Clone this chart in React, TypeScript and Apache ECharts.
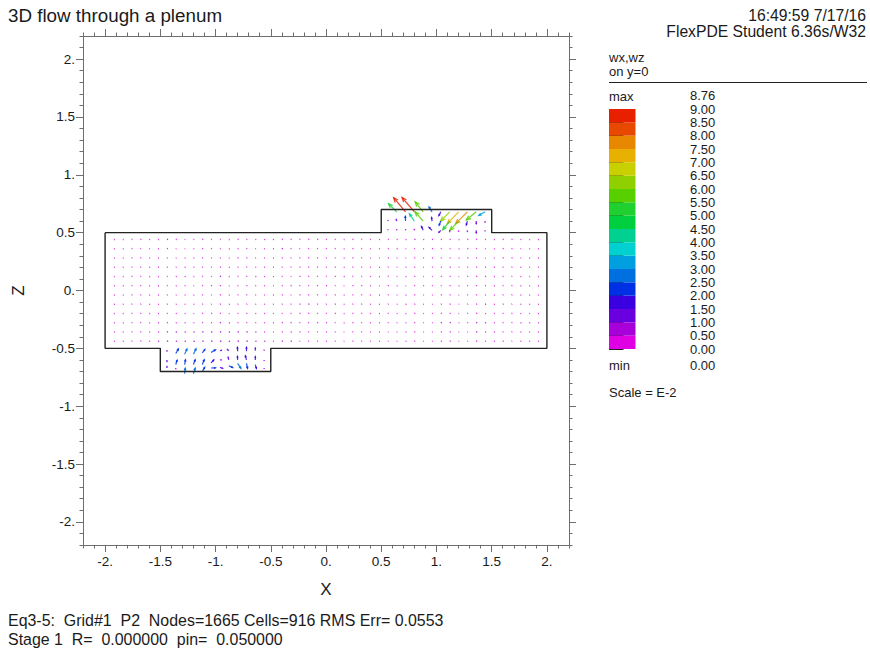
import React, { useEffect, useRef } from "react";
import * as echarts from "echarts";

const FONT = '"Liberation Sans", Arial, sans-serif';
const TEXT = "#1a1a1a";
const AXIS = "#6e6e6e";

const outlineX = [-2, 0.5, 0.5, 1.5, 1.5, 2, 2, -0.5, -0.5, -1.5, -1.5, -2, -2];
const outlineZ = [0.5, 0.5, 0.7, 0.7, 0.5, 0.5, -0.5, -0.5, -0.7, -0.7, -0.5, -0.5, 0.5];

const majorTicks = [-2, -1.5, -1, -0.5, 0, 0.5, 1, 1.5, 2];
const minorTicks = [-2.2, -2.1, -1.9, -1.8, -1.7, -1.6, -1.4, -1.3, -1.2, -1.1, -0.9, -0.8, -0.7, -0.6, -0.4, -0.3, -0.2, -0.1, 0.1, 0.2, 0.3, 0.4, 0.6, 0.7, 0.8, 0.9, 1.1, 1.2, 1.3, 1.4, 1.6, 1.7, 1.8, 1.9, 2.1, 2.2];

const gridXs = [-1.92, -1.84, -1.76, -1.68, -1.6, -1.52, -1.44, -1.36, -1.28, -1.2, -1.12, -1.04, -0.96, -0.88, -0.8, -0.72, -0.64, -0.56, -0.48, -0.4, -0.32, -0.24, -0.16, -0.08, 0, 0.08, 0.16, 0.24, 0.32, 0.4, 0.48, 0.56, 0.64, 0.72, 0.8, 0.88, 0.96, 1.04, 1.12, 1.2, 1.28, 1.36, 1.44, 1.52, 1.6, 1.68, 1.76, 1.84, 1.92];
const gridZs = [0.44, 0.36, 0.28, 0.2, 0.12, 0.04, -0.04, -0.12, -0.2, -0.28, -0.36, -0.44];

// Background field: wx by row (E-2), one row per gridZs entry
const wxRows = [
  [.45, .42, .35, .42, .42, .45, .48, .42, .35, .4, .42, .35, .3, .42, .42, .35, .45, .48, .48, .4, .42, .35, .42, .42, .35, .35, .42, .42, .35, .4, .42, .4, .4, .45, .5, .48, .42, .4, .42, .45, .42, .38, .4, .42, .42, .4, .42, .45, .45],
  [.42, .4, .3, .3, .4, .42, .42, .3, .3, .4, .42, .35, .3, .42, .35, .3, .35, .42, .48, .48, .38, .3, .35, .3, .35, .35, .4, .42, .3, .35, .42, .4, .42, .35, .3, .42, .42, .3, .35, .42, .42, .3, .3, .4, .42, .4, .35, .42, .42],
  [.4, .4, .3, .35, .4, .35, .3, .32, .42, .42, .35, .3, .3, .35, .4, .38, .35, .4, .45, .35, .3, .35, .4, .42, .3, .3, .42, .4, .32, .3, .35, .42, .35, .3, .35, .4, .38, .3, .35, .4, .42, .35, .3, .35, .42, .42, .35, .4, .42],
  [.4, .38, .3, .3, .42, .4, .3, .35, .48, .4, .3, .3, .42, .42, .32, .3, .42, .45, .42, .3, .3, .4, .4, .3, .3, .38, .42, .3, .3, .4, .42, .3, .3, .4, .42, .32, .3, .4, .42, .35, .3, .35, .42, .45, .3, .35, .42, .4, .35],
  [.38, .42, .3, .3, .42, .4, .3, .45, .48, .4, .3, .3, .48, .4, .3, .3, .48, .42, .42, .3, .3, .4, .35, .3, .3, .4, .48, .3, .3, .4, .42, .3, .3, .42, .42, .3, .3, .42, .4, .3, .3, .42, .45, .42, .3, .3, .42, .38, .38],
  [.42, .42, .32, .35, .42, .42, .3, .42, .42, .32, .3, .4, .42, .35, .3, .4, .42, .42, .35, .35, .42, .35, .3, .38, .42, .3, .3, .42, .4, .35, .3, .42, .4, .3, .35, .42, .32, .3, .4, .42, .3, .3, .42, .42, .3, .35, .42, .4, .42],
  [.42, .4, .32, .32, .42, .4, .3, .35, .42, .4, .3, .3, .42, .4, .32, .3, .4, .35, .45, .35, .3, .4, .4, .3, .3, .38, .4, .3, .32, .42, .45, .3, .32, .42, .4, .3, .32, .4, .4, .3, .3, .35, .42, .42, .3, .35, .42, .4, .38],
  [.45, .42, .3, .32, .42, .42, .32, .4, .42, .4, .3, .3, .42, .42, .3, .3, .42, .42, .4, .3, .35, .45, .48, .32, .3, .42, .4, .3, .35, .42, .4, .3, .35, .48, .42, .35, .3, .38, .42, .3, .3, .42, .48, .45, .38, .3, .42, .42, .4],
  [.42, .42, .3, .35, .42, .42, .32, .42, .42, .35, .3, .42, .42, .35, .3, .4, .42, .42, .38, .3, .35, .4, .4, .3, .32, .42, .42, .3, .35, .42, .42, .3, .38, .4, .4, .3, .32, .42, .4, .3, .3, .42, .42, .42, .3, .35, .42, .4, .42],
  [.42, .4, .32, .35, .42, .45, .42, .45, .48, .42, .35, .42, .48, .48, .35, .35, .42, .42, .42, .42, .42, .35, .32, .42, .4, .3, .4, .42, .3, .38, .42, .3, .35, .42, .42, .3, .3, .45, .48, .35, .35, .45, .48, .42, .3, .35, .48, .48, .42],
  [.42, .4, .3, .35, .4, .48, .48, .55, .55, .55, .55, .55, .55, .58, .55, .55, .5, .45, .4, .4, .45, .4, .3, .3, .32, .3, .3, .32, .3, .35, .42, .3, .32, .4, .42, .3, .3, .42, .42, .3, .3, .45, .48, .42, .3, .35, .42, .42, .4],
  [.42, .4, .3, .4, .42, .5, .55, .6, .62, .6, .6, .62, .62, .6, .62, .6, .58, .55, .42, .45, .5, .3, .3, .32, .35, .3, .32, .35, .3, .35, .42, .3, .32, .4, .4, .3, .3, .42, .42, .3, .3, .42, .42, .45, .42, .3, .42, .42, .4],
];
// Background field: wz by column (E-2)
const wzColumns = [.05, .06, .25, .22, .08, .05, .2, .15, .1, .08, .22, .18, .2, .06, .2, .25, .12, .1, .1, .22, .18, .2, .22, .25, .2, .22, .06, .2, .22, .1, .08, .2, .16, .06, .2, .12, .18, .22, .2, .06, .2, .25, .16, .06, .22, .2, .08, .06, .06];

// Strong arrows read from the plenums: x, z, wx, wz (E-2)
const upperArrows = [
  [0.64, 0.68, -3.8, 3.8], [0.72, 0.68, -5.5, 6.5], [0.8, 0.68, -5.7, 6.65], [0.88, 0.68, -3.7, 4.6],
  [0.96, 0.68, -1.4, 2.3], [1.04, 0.68, -0.9, -1.7], [1.12, 0.68, -4.2, -4.3], [1.2, 0.68, -5.2, -5.4],
  [1.28, 0.68, -5.4, -5.4], [1.36, 0.68, -4.6, -3.8], [1.44, 0.68, -2.9, -1.7],
  [0.56, 0.6, 0.1, 0.55], [0.64, 0.6, -0.3, 1.1], [0.72, 0.6, -0.1, 2.2], [0.8, 0.6, -2.3, 3.4],
  [0.88, 0.6, -3.8, 4.3], [0.96, 0.6, -0.2, 1.6], [1.04, 0.6, -0.8, -1.9], [1.12, 0.6, -3.2, -4.0],
  [1.2, 0.6, -4.0, -4.3], [1.28, 0.6, -0.5, -1.8], [1.36, 0.6, 0, -1.2], [1.44, 0.6, 0, -0.8],
  [0.56, 0.52, 0, 0.5], [0.64, 0.52, 0.1, 0.6], [0.72, 0.52, 0.1, 0.6], [0.8, 0.52, 0, 0.7],
  [0.88, 0.52, -0.8, 1.8], [0.96, 0.52, -1.4, 1.4], [1.04, 0.52, -0.9, -0.9], [1.12, 0.52, 0, -0.9],
  [1.2, 0.52, 0, -0.7], [1.28, 0.52, 0, -0.8], [1.36, 0.52, 0, -1.2], [1.44, 0.52, 0, -0.5],
];
const lowerArrows = [
  [-1.44, -0.53, 0, 0.8], [-1.36, -0.545, 1.2, 2.1], [-1.28, -0.55, 1.1, 2.4], [-1.2, -0.55, 1.2, 2.5],
  [-1.12, -0.54, 1.2, 1.6], [-1.04, -0.535, 2, 1.2], [-0.96, -0.52, 1, 0.2], [-0.88, -0.52, -0.9, 0.7],
  [-0.8, -0.525, -0.1, 1.8], [-0.72, -0.525, 0, 1.8], [-0.64, -0.52, 0, 1.2], [-0.56, -0.52, 0, 0.5],
  [-1.44, -0.62, 0, 1], [-1.36, -0.64, 0.6, 2], [-1.28, -0.64, 0.4, 2.2], [-1.2, -0.64, 0.8, 2.2],
  [-1.12, -0.64, 0.9, 2.2], [-1.04, -0.625, 1.2, 1.3], [-0.96, -0.6, 0.9, 0], [-0.88, -0.6, -0.3, 1.2],
  [-0.8, -0.6, -0.1, 1.6], [-0.72, -0.6, -0.5, 1.9], [-0.64, -0.6, 0, 1.5], [-0.56, -0.61, 0, 0.5],
  [-1.44, -0.67, 0, 1], [-1.36, -0.68, 0, 0.5], [-1.28, -0.72, 0.3, 2.6], [-1.2, -0.72, 0.8, 2.6],
  [-1.12, -0.7, 1.1, 1.9], [-1.04, -0.67, 2, 0.1], [-0.96, -0.665, 1.2, -0.4], [-0.88, -0.65, 1.8, -0.9],
  [-0.8, -0.63, 1.5, -2.3], [-0.72, -0.63, 0.5, -2.3], [-0.64, -0.64, 0.5, -1.8], [-0.56, -0.67, 0, -0.5],
];

const levelTicks = [0, 0.5, 1, 1.5, 2, 2.5, 3, 3.5, 4, 4.5, 5, 5.5, 6, 6.5, 7, 7.5, 8, 8.5, 9];
const levelColors = ["#e000e4", "#a800d8", "#6a00e0", "#3a00e0", "#0030e6", "#0070e0", "#00a0e0", "#00d0d0", "#00d090", "#00d040", "#20d030", "#58d000", "#90d000", "#c8d000", "#e8b000", "#e88800", "#e84800", "#e82000"];

const pxPerUnit = 2.17;

function colorFor(mag: number) {
  return levelColors[Math.min(levelColors.length - 1, Math.floor(mag / 0.5))];
}

function renderArrow(_: any, api: any) {
  const x = api.value(0), z = api.value(1), wx = api.value(2), wz = api.value(3);
  const mag = Math.hypot(wx, wz);
  const [px, py] = api.coord([x, z]);
  const ex = px + wx * pxPerUnit;
  const ey = py - wz * pxPerUnit;
  const stroke = colorFor(mag);
  const len = mag * pxPerUnit;
  const width = len > 2.5 ? 1.2 : 1.4;
  const children: any[] = [
    { type: "line", shape: { x1: px, y1: py, x2: ex, y2: ey }, style: { stroke, lineWidth: width, fill: null, opacity: 0.85 } },
  ];
  if (len > 2.5) {
    const a = Math.atan2(ey - py, ex - px);
    const h = Math.min(5, len * 0.4);
    const b = 0.38;
    children.push({
      type: "polyline",
      shape: {
        points: [
          [ex - h * Math.cos(a - b), ey - h * Math.sin(a - b)],
          [ex, ey],
          [ex - h * Math.cos(a + b), ey - h * Math.sin(a + b)],
        ],
      },
      style: { stroke, lineWidth: 1.2, fill: null, opacity: 0.85 },
    });
  }
  return { type: "group", children };
}

function renderBin(_: any, api: any) {
  const lo = api.value(0), hi = api.value(1);
  const a = api.coord([0, hi]);
  const b = api.coord([1, lo]);
  return {
    type: "rect",
    shape: { x: a[0], y: a[1], width: b[0] - a[0], height: b[1] - a[1] },
    style: { fill: levelColors[Math.round(lo / 0.5)] },
  };
}

const tickLabel = (v: number) => (Number.isInteger(v) ? `${v}.` : `${v}`);

function mainAxis(position: string, values: number[], major: boolean, withLine: boolean, name?: string) {
  const vertical = position === "left" || position === "right";
  const axis: any = {
    type: "value",
    gridIndex: 0,
    position,
    min: -2.2,
    max: 2.2,
    splitLine: { show: false },
    axisLine: { show: withLine, lineStyle: { color: AXIS, width: 1 }, onZero: false },
    axisTick: { show: true, length: major ? 7 : 3.5, customValues: values, lineStyle: { color: AXIS, width: 1 } },
    axisLabel: { show: false },
  };
  if (name) {
    axis.axisLabel = {
      show: true,
      customValues: majorTicks,
      formatter: tickLabel,
      color: TEXT,
      fontFamily: FONT,
      fontSize: 13.5,
      margin: vertical ? 8 : 9,
    };
    axis.name = name;
    axis.nameLocation = "middle";
    axis.nameGap = vertical ? 56 : 36;
    axis.nameRotate = vertical ? 90 : 0;
    axis.nameTextStyle = { color: TEXT, fontFamily: FONT, fontSize: 17 };
  }
  return axis;
}

const text = (x: number, y: number, t: string, fontSize: number, align = "left") => ({
  type: "text",
  x,
  y,
  style: { text: t, fontFamily: FONT, fontSize, fill: TEXT, textAlign: align, textVerticalAlign: "middle" },
});

export default function App() {
  const ref = useRef<HTMLDivElement>(null);
  useEffect(() => {
    const chart = echarts.init(ref.current!, null, { renderer: "svg" });
    const background: number[][] = [];
    gridZs.forEach((z, r) => {
      gridXs.forEach((x, c) => background.push([x, z, wxRows[r][c], wzColumns[c]]));
    });
    const bins = levelColors.map((_, i) => [levelTicks[i], levelTicks[i + 1]]);
    chart.setOption({
      animation: false,
      backgroundColor: "#ffffff",
      grid: [
        { left: 83, top: 36, width: 486, height: 509, outerBoundsMode: "none", containLabel: false },
        { left: 609, top: 109, width: 26.5, height: 240, outerBoundsMode: "none", containLabel: false },
      ],
      xAxis: [
        mainAxis("bottom", majorTicks, true, true, "X"),
        mainAxis("bottom", minorTicks, false, false),
        mainAxis("top", majorTicks, true, true),
        mainAxis("top", minorTicks, false, false),
        { type: "value", gridIndex: 1, min: 0, max: 1, show: false },
      ],
      yAxis: [
        mainAxis("left", majorTicks, true, true, "Z"),
        mainAxis("left", minorTicks, false, false),
        mainAxis("right", majorTicks, true, true),
        mainAxis("right", minorTicks, false, false),
        {
          type: "value",
          gridIndex: 1,
          position: "right",
          min: 0,
          max: 9,
          interval: 0.5,
          splitLine: { show: false },
          axisLine: { show: false },
          axisTick: { show: true, length: 14.5, lineStyle: { color: "#222", width: 1 } },
          axisLabel: {
            show: true,
            margin: 54.5,
            color: TEXT,
            fontFamily: FONT,
            fontSize: 13,
            formatter: (v: number) => v.toFixed(2),
          },
        },
      ],
      series: [
        {
          type: "line",
          xAxisIndex: 0,
          yAxisIndex: 0,
          data: outlineX.map((x, i) => [x, outlineZ[i]]),
          symbol: "none",
          silent: true,
          lineStyle: { color: "#222", width: 1.4 },
        },
        {
          type: "custom",
          xAxisIndex: 0,
          yAxisIndex: 0,
          clip: false,
          silent: true,
          data: [...background, ...upperArrows, ...lowerArrows],
          renderItem: renderArrow,
        },
        {
          type: "custom",
          xAxisIndex: 4,
          yAxisIndex: 4,
          silent: true,
          data: bins,
          encode: { y: [0, 1] },
          renderItem: renderBin,
        },
      ],
      graphic: [
        text(8, 15, "3D flow through a plenum", 18.8),
        text(866, 15, "16:49:59 7/17/16", 15.7, "right"),
        text(866, 31, "FlexPDE Student 6.36s/W32", 15.7, "right"),
        text(609, 57.5, "wx,wz", 13),
        text(609, 71, "on y=0", 13),
        { type: "line", shape: { x1: 609, y1: 82.5, x2: 867, y2: 82.5 }, style: { stroke: "#222", lineWidth: 1 } },
        text(609, 96, "max", 13),
        text(690, 95, "8.76", 13),
        text(609, 365, "min", 13),
        text(690, 365, "0.00", 13),
        text(609, 392, "Scale = E-2", 13),
        text(8, 620, "Eq3-5:  Grid#1  P2  Nodes=1665 Cells=916 RMS Err= 0.0553", 15.95),
        text(8, 639, "Stage 1  R=  0.000000  pin=  0.050000", 15.95),
      ],
    });
    return () => chart.dispose();
  }, []);
  return <div ref={ref} style={{ position: "absolute", left: 0, top: 0, width: 870, height: 652 }} />;
}
